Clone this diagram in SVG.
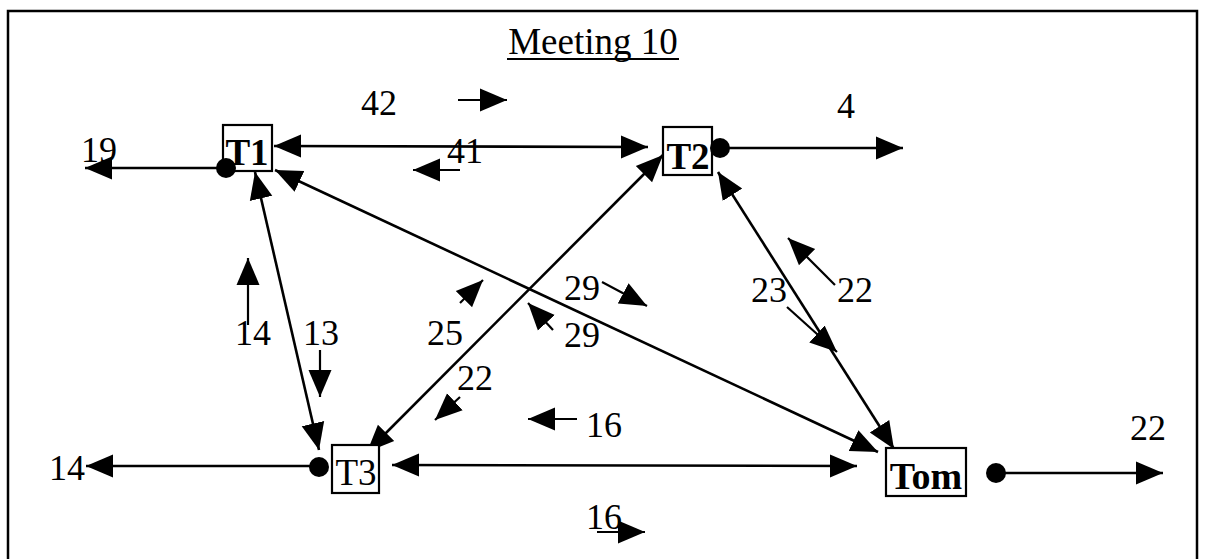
<svg xmlns="http://www.w3.org/2000/svg" width="1205" height="559" viewBox="0 0 1205 559">
<style>
.lbl{font-family:"Liberation Serif","Times New Roman",serif;font-size:36px;fill:#000}
.nodetxt{font-family:"Liberation Serif","Times New Roman",serif;font-size:37px;fill:#000}
.box{fill:#fff;stroke:#000;stroke-width:2.2}
.conn{stroke:#000;stroke-width:2.6;fill:none}
.ann{stroke:#000;stroke-width:2.2;fill:none}
</style>
<defs>
<marker id="ah" markerUnits="userSpaceOnUse" markerWidth="28" markerHeight="25" refX="27" refY="11.5" orient="auto-start-reverse" viewBox="0 0 28 23">
<path d="M0,0 L27,11.5 L0,23 z" fill="#000"/>
</marker>
</defs>
<rect x="0" y="0" width="1205" height="559" fill="#fff"/>
<rect x="8" y="11" width="1189" height="560" fill="none" stroke="#000" stroke-width="2.5"/>

<g id="title">
<text class="lbl" x="593" y="54" text-anchor="middle" style="font-size:37px">Meeting 10</text>
<line x1="507" y1="59" x2="679" y2="59" stroke="#000" stroke-width="2"/>
</g>

<g id="connectors">
<line class="conn" x1="226" y1="168" x2="85" y2="168" marker-end="url(#ah)"/>
<line class="conn" x1="274" y1="146" x2="648" y2="147" marker-start="url(#ah)" marker-end="url(#ah)"/>
<line class="conn" x1="720" y1="148" x2="903" y2="148" marker-end="url(#ah)"/>
<line class="conn" x1="255" y1="172" x2="319" y2="450" marker-start="url(#ah)" marker-end="url(#ah)"/>
<line class="conn" x1="275" y1="170" x2="878" y2="452" marker-start="url(#ah)" marker-end="url(#ah)"/>
<line class="conn" x1="367" y1="452" x2="663" y2="155" marker-start="url(#ah)" marker-end="url(#ah)"/>
<line class="conn" x1="718" y1="172" x2="894" y2="449" marker-start="url(#ah)" marker-end="url(#ah)"/>
<line class="conn" x1="319" y1="466" x2="86" y2="466" marker-end="url(#ah)"/>
<line class="conn" x1="392" y1="465" x2="857" y2="466" marker-start="url(#ah)" marker-end="url(#ah)"/>
<line class="conn" x1="996" y1="473" x2="1163" y2="473" marker-end="url(#ah)"/>

<line class="ann" x1="458" y1="100" x2="507" y2="100" marker-end="url(#ah)"/>
<line class="ann" x1="460" y1="170" x2="413" y2="170" marker-end="url(#ah)"/>
<line class="ann" x1="248" y1="325" x2="248" y2="258" marker-end="url(#ah)"/>
<line class="ann" x1="320" y1="350" x2="320" y2="397" marker-end="url(#ah)"/>
<line class="ann" x1="460" y1="303" x2="483" y2="280" marker-end="url(#ah)"/>
<line class="ann" x1="602" y1="282" x2="647" y2="306" marker-end="url(#ah)"/>
<line class="ann" x1="553" y1="330" x2="528" y2="303" marker-end="url(#ah)"/>
<line class="ann" x1="460" y1="397" x2="435" y2="420" marker-end="url(#ah)"/>
<line class="ann" x1="577" y1="419" x2="528" y2="419" marker-end="url(#ah)"/>
<line class="ann" x1="597" y1="532" x2="645" y2="532" marker-end="url(#ah)"/>
<line class="ann" x1="787" y1="307" x2="837" y2="352" marker-end="url(#ah)"/>
<line class="ann" x1="835" y1="285" x2="788" y2="238" marker-end="url(#ah)"/>
</g>

<g id="node-T1">
<rect class="box" x="223" y="125" width="49" height="46"/>
<text class="nodetxt" x="247" y="165" text-anchor="middle" font-weight="bold">T1</text>
<circle cx="226" cy="168" r="10" fill="#000"/>
</g>

<g id="node-T2">
<rect class="box" x="663" y="127" width="49" height="48"/>
<text class="nodetxt" x="688" y="169" text-anchor="middle" font-weight="bold">T2</text>
<circle cx="720" cy="148" r="10" fill="#000"/>
</g>

<g id="node-T3">
<rect class="box" x="332" y="445" width="47" height="48"/>
<text class="nodetxt" x="356" y="485" text-anchor="middle">T3</text>
<circle cx="319" cy="467" r="10" fill="#000"/>
</g>

<g id="node-Tom">
<rect class="box" x="886" y="448" width="80" height="48"/>
<text class="nodetxt" x="926" y="489" text-anchor="middle" font-weight="bold" style="font-size:38px">Tom</text>
<circle cx="996" cy="473" r="10" fill="#000"/>
</g>

<g id="labels">
<text class="lbl" x="81" y="162">19</text>
<text class="lbl" x="361" y="115">42</text>
<text class="lbl" x="447" y="163">41</text>
<text class="lbl" x="837" y="118">4</text>
<text class="lbl" x="235" y="345">14</text>
<text class="lbl" x="303" y="345">13</text>
<text class="lbl" x="427" y="345">25</text>
<text class="lbl" x="564" y="300">29</text>
<text class="lbl" x="564" y="347">29</text>
<text class="lbl" x="751" y="302">23</text>
<text class="lbl" x="837" y="302">22</text>
<text class="lbl" x="457" y="390">22</text>
<text class="lbl" x="586" y="437">16</text>
<text class="lbl" x="49" y="480">14</text>
<text class="lbl" x="1130" y="440">22</text>
<text class="lbl" x="586" y="529">16</text>
</g>
</svg>
